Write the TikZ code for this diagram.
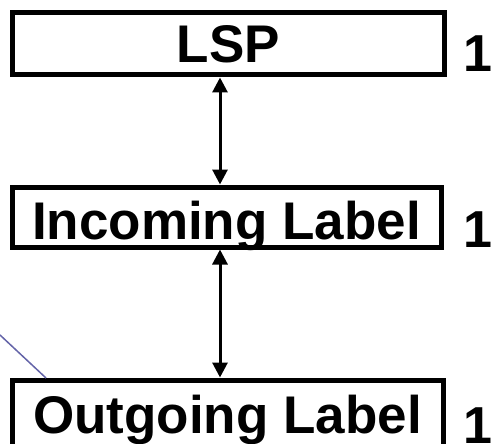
\documentclass[tikz,border=0pt]{standalone}
\usepackage{fontspec}
\setmainfont{Liberation Sans}
\usetikzlibrary{arrows.meta}
\begin{document}
\begin{tikzpicture}[x=1pt,y=-1pt,
  box/.style={draw=black, line width=5pt, fill=white, inner sep=0pt,
    font=\fontsize{53}{53}\selectfont\bfseries, text height=38pt, text depth=0pt},
  num/.style={anchor=base west, inner sep=0pt, font=\fontsize{52}{52}\selectfont\bfseries},
  link/.style={line width=3pt, {Triangle[width=15pt,length=15pt]}-{Triangle[width=15pt,length=15pt]}},
  thin/.style={draw={rgb,255:red,100;green,100;blue,168}, line width=1.5pt}]
\useasboundingbox (0,0) rectangle (493,444);
\clip (0,0) rectangle (493,444);
\fill[white] (0,0) rectangle (493,444);
\node[box, minimum width=431.5pt, minimum height=62.5pt] (b1) at (228.25,43.75) {LSP};
\node[box, minimum width=429pt, minimum height=60pt, text height=44pt] (b2) at (226.5,217) {Incoming Label};
\node[box, minimum width=431pt, minimum height=68pt] (b3) at (227.5,414) {Outgoing Label};
\node[num] (n1) at (463,72) {\makebox[24pt][l]{1}};
\node[num] (n2) at (463,247) {\makebox[24pt][l]{1}};
\node[num] (n3) at (463,443) {\makebox[24pt][l]{1}};
\coordinate (ax) at (220,0);
\draw[link] (b1.south -| ax) -- (b2.north -| ax);
\draw[link] (b2.south -| ax) -- (b3.north -| ax);
\coordinate (l0) at (0,335);
\coordinate (l1) at (46,378);
\draw[thin] (l0) -- (l1);
\end{tikzpicture}
\end{document}
